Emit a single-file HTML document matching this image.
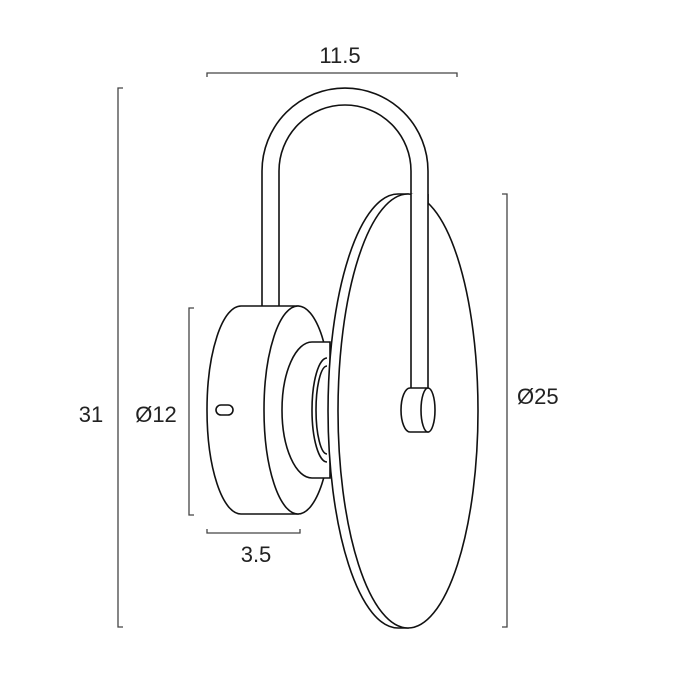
<!DOCTYPE html>
<html><head><style>html,body{margin:0;padding:0;background:#fff}svg{display:block}text{font-family:"Liberation Sans",sans-serif;font-size:22px;fill:#222}</style></head>
<body>
<svg width="700" height="700" viewBox="0 0 700 700" xmlns="http://www.w3.org/2000/svg">
<rect width="700" height="700" fill="#fff"/>
<g fill="none" stroke="#444" stroke-width="1.3">
<path d="M207 77V73H457V77"/>
<path d="M123 88H118V627H123"/>
<path d="M194 308H189V515H194"/>
<path d="M207 529V533H300V529"/>
<path d="M502 194H507V627H502"/>
</g>
<text x="340" y="63" text-anchor="middle">11.5</text>
<text x="91" y="422" text-anchor="middle">31</text>
<text x="156" y="422" text-anchor="middle">Ø12</text>
<text x="256" y="562" text-anchor="middle">3.5</text>
<text x="517" y="404">Ø25</text>
<g fill="#fff" stroke="#111" stroke-width="1.6">
<path d="M262 307V171A83 83 0 0 1 428 171V360H411V171A66 66 0 0 0 279 171V307Z"/>
<path d="M241 306H298V514H241A34 104 0 0 1 241 306Z"/>
<ellipse cx="298" cy="410" rx="34" ry="104"/>
<path d="M312 342H330V478H312A30 68 0 0 1 312 342Z"/>
<path d="M327 358A15 52 0 0 0 327 462" />
<path d="M327 366A11 44 0 0 0 327 454" />
<path d="M398 194H408V628H398A70 217 0 0 1 398 194Z"/>
<ellipse cx="408" cy="411" rx="70" ry="217"/>
<path d="M411 194V392H428V194" />
<path d="M410 388H428V432H410A9 22 0 0 1 410 388Z"/>
<ellipse cx="428" cy="410" rx="7" ry="22"/>
<rect x="216" y="405" width="17" height="10" rx="5"/>
</g>
</svg>
</body></html>
